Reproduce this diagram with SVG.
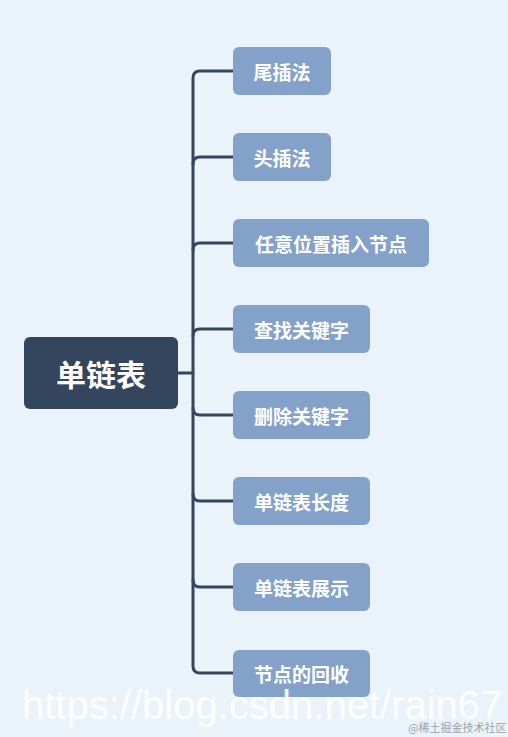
<svg xmlns="http://www.w3.org/2000/svg" width="508" height="737" viewBox="0 0 508 737">
<style>
.bg{fill:#ebf3fa}
.root rect{fill:#34455e}
.root text{fill:#fff;font-family:"Noto Sans CJK SC","Noto Sans",sans-serif;font-weight:bold;font-size:30px;text-anchor:middle;dominant-baseline:central}
.child rect{fill:#84a2c9}
.child text{fill:#fff;font-family:"Noto Sans CJK SC","Noto Sans",sans-serif;font-weight:bold;font-size:19px;text-anchor:middle;dominant-baseline:central}
.conn path{fill:none;stroke:#34455e;stroke-width:3;stroke-linecap:round}
.wm{fill:#fff;font-family:"Liberation Sans",Arial,sans-serif;font-size:40px}
.wm2{fill:#9aa3ad;font-family:"Noto Sans CJK SC",sans-serif;font-size:11px}
</style>
<rect class="bg" x="0" y="0" width="508" height="737"/>
<g id="connectors" class="conn">
<path d="M178 373 H193"/>
<path d="M233 71 H200 Q193 71 193 78 V666 Q193 673 200 673 H233"/>
<path d="M233 157 H200 Q193 157 193 164"/>
<path d="M233 243 H200 Q193 243 193 250"/>
<path d="M233 329 H200 Q193 329 193 336"/>
<path d="M233 415 H200 Q193 415 193 408"/>
<path d="M233 501 H200 Q193 501 193 494"/>
<path d="M233 587 H200 Q193 587 193 580"/>
</g>
<g id="root" class="root"><rect x="24" y="337" width="154" height="72" rx="6"/><text x="101" y="373">单链表</text></g>
<g id="n1" class="child"><rect x="233" y="47" width="98" height="48" rx="6"/><text x="282" y="71">尾插法</text></g>
<g id="n2" class="child"><rect x="233" y="133" width="98" height="48" rx="6"/><text x="282" y="157">头插法</text></g>
<g id="n3" class="child"><rect x="233" y="219" width="196" height="48" rx="6"/><text x="331" y="243">任意位置插入节点</text></g>
<g id="n4" class="child"><rect x="233" y="305" width="137" height="48" rx="6"/><text x="301.5" y="329">查找关键字</text></g>
<g id="n5" class="child"><rect x="233" y="391" width="137" height="48" rx="6"/><text x="301.5" y="415">删除关键字</text></g>
<g id="n6" class="child"><rect x="233" y="477" width="137" height="48" rx="6"/><text x="301.5" y="501">单链表长度</text></g>
<g id="n7" class="child"><rect x="233" y="563" width="137" height="48" rx="6"/><text x="301.5" y="587">单链表展示</text></g>
<g id="n8" class="child"><rect x="233" y="650" width="137" height="47" rx="6"/><text x="301.5" y="673">节点的回收</text></g>
<text class="wm" x="22" y="719" opacity="0.92">https://blog.csdn.net/rain67</text>
<text class="wm2" x="408" y="732">@稀土掘金技术社区</text>
</svg>
